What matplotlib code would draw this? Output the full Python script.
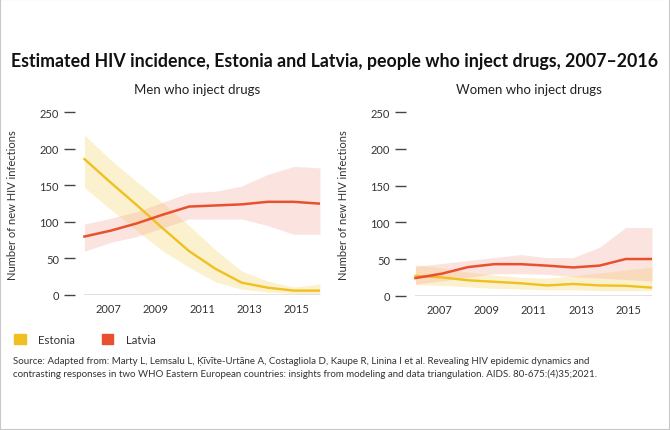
import numpy as np
import matplotlib
matplotlib.use('Agg')
from matplotlib import pyplot as plt
from matplotlib.patches import Patch, Rectangle

plt.rcParams['font.family'] = ['Lato', 'DejaVu Sans']

# ten yearly estimates, spread evenly across the 2006-2016 axis as in the original
x = np.linspace(2006, 2016, 10)
xticks = [2007, 2009, 2011, 2013, 2015]
yticks = [0, 50, 100, 150, 200, 250]

men_est = [186, 154, 123, 91, 60, 36, 17, 10, 6, 6]
men_est_lo = [147, 117, 88, 60, 38, 18, 8, 4, 2, 2]
men_est_hi = [219, 185, 155, 126, 95, 62, 33, 19, 11, 15]
men_lat = [80, 88, 98, 110, 121, 122.5, 124, 127.5, 127.5, 125]
men_lat_lo = [60, 72, 80, 92, 104, 104, 104, 95, 83, 83]
men_lat_hi = [97, 105, 114, 127, 140, 142, 149, 165, 176, 174]

women_est = [27, 25, 21, 19, 17, 14, 16, 14, 13.5, 11]
women_est_lo = [15, 14, 12, 10, 9, 8, 8, 7, 7, 7]
women_est_hi = [42, 38, 32, 28, 25, 24, 27, 31, 35, 39]
women_lat = [24, 30, 39, 43, 43, 41, 38.5, 41, 50, 50]
women_lat_lo = [16, 20, 25, 30, 30, 29, 26, 24, 22, 20]
women_lat_hi = [40, 44, 48, 52, 56, 52, 52, 66, 93, 93]

EST = '#F0C020'
LAT = '#E8502F'
W, H = 670, 431


def px_axes(left, right, top, bottom):
    return [left / W, 1 - bottom / H, (right - left) / W, (bottom - top) / H]


fig = plt.figure(figsize=(6.7, 4.31), dpi=100)

panels = [
    ('Men who inject drugs', px_axes(75, 320, 113.3, 296),
     men_est, men_est_lo, men_est_hi, men_lat, men_lat_lo, men_lat_hi),
    ('Women who inject drugs', px_axes(406, 652, 113.3, 296.7),
     women_est, women_est_lo, women_est_hi, women_lat, women_lat_lo, women_lat_hi),
]

for title, rect, est, est_lo, est_hi, lat, lat_lo, lat_hi in panels:
    ax = fig.add_axes(rect)
    ax.fill_between(x, est_lo, est_hi, color='#F5D66B', alpha=0.32, lw=0)
    ax.fill_between(x, lat_lo, lat_hi, color='#F4A08C', alpha=0.28, lw=0)
    ax.hlines(0, 2006, 2016, color='#dddddd', lw=1.2, zorder=1)
    ax.plot(x, est, color=EST, lw=1.7, solid_joinstyle='miter')
    ax.plot(x, lat, color=LAT, lw=1.8, solid_joinstyle='miter')
    ax.set_xlim(2005.6, 2016)
    ax.set_ylim(0, 250)
    ax.set_xticks(xticks)
    ax.set_yticks(yticks)
    for s in ax.spines.values():
        s.set_visible(False)
    ax.tick_params(axis='y', length=8, width=1, color='#444444', pad=3.6,
                   labelsize=8, labelcolor='#333333')
    ax.tick_params(axis='x', length=0, pad=6, labelsize=8, labelcolor='#333333')
    ax.set_ylabel('Number of new HIV infections', fontsize=8, color='#333333')
    ax.yaxis.set_label_coords(-0.232, 0.5)
    ax.set_title(title, fontsize=9.5, color='#222222', pad=14)

fig.text(0.5, 1 - 61.7 / H, 'Estimated HIV incidence, Estonia and Latvia, people who inject drugs, 2007\u20132016',
         ha='center', va='center', fontsize=12.8, fontweight='bold', color='#111111')

handles = [Patch(color=EST, label='Estonia'), Patch(color=LAT, label='Latvia')]
fig.legend(handles=handles, loc='center left', bbox_to_anchor=(14 / W, 1 - 340.5 / H),
           ncol=2, frameon=False, fontsize=8.3, handlelength=1.0, handleheight=1.0,
           handletextpad=1.1, columnspacing=2.3, borderpad=0, borderaxespad=0,
           labelcolor='#333333')

fig.text(13 / W, 1 - 357 / H,
         'Source: Adapted from: Marty L, Lemsalu L, \u0136\u012bv\u012bte-Urt\u0101ne A, Costagliola D, Kaupe R, Linina I et al. '
         'Revealing HIV epidemic dynamics and\ncontrasting responses in two WHO Eastern European countries: '
         'insights from modeling and data triangulation. AIDS. 80-675:(4)35;2021.',
         ha='left', va='top', fontsize=7.0, color='#333333', linespacing=1.4)

fig.add_artist(Rectangle((0, 0), 1, 1, transform=fig.transFigure, fill=False,
                         ec='#c8c8c8', lw=1.5))

fig.savefig('out.png', dpi=100)
